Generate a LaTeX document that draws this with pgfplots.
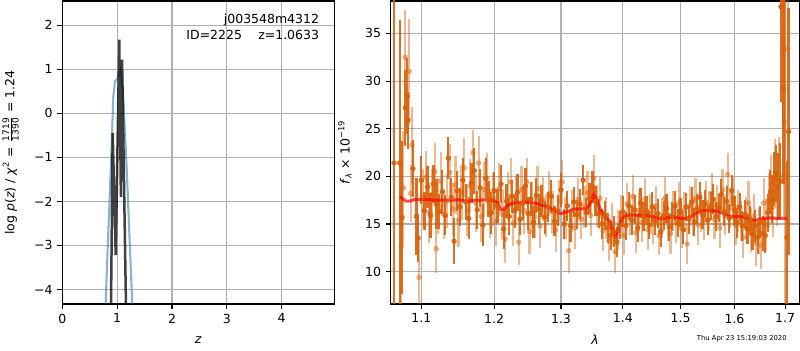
\documentclass[border=0pt]{standalone}
\usepackage{fontspec}
\setmainfont{DejaVu Sans}
\usepackage{pgfplots}
\usepackage{pgfplotstable}
\pgfplotsset{compat=1.18}
\definecolor{gridgray}{RGB}{176,176,176}
\definecolor{mplblue}{RGB}{31,119,180}
\definecolor{specor}{RGB}{217,97,8}

\pgfplotstableread{
x y e
1.0646 21.4 25
1.0719 21.4 15
1.0749 15.7 8
1.0791 27.2 4
1.0816 28.4 4
1.0826 25.9 3
1.0890 20.8 3
1.0935 15.8 4
1.0957 13.5 2.5
1.100 19.6 2.5
1.104 16.4 2.0
1.108 18.9 2.2
1.112 15.9 2.4
1.116 19.2 2.0
1.120 17.1 2.6
1.124 16.3 1.8
1.128 18.4 2.3
1.132 15.9 2.1
1.136 21.9 2.2
1.140 17.8 2.0
1.144 13.2 2.4
1.148 18.5 2.1
1.152 16.8 2.0
1.156 19.6 2.3
1.160 17.3 1.9
1.164 15.6 2.2
1.168 19.3 2.1
1.172 20.6 2.4
1.176 16.5 2.0
1.180 18.8 2.0
1.184 14.9 2.2
1.188 19.8 2.1
1.192 17.6 1.9
1.196 16.2 2.2
1.200 18.5 2.0
1.205 16.9 1.8
1.210 19.2 2.0
1.214 14.5 2.1
1.218 17.4 1.8
1.222 15.8 1.9
1.226 17.9 1.7
1.230 16.4 1.8
1.234 18.3 1.9
1.238 15.5 1.7
1.242 17.2 1.8
1.246 19.0 1.9
1.250 16.1 1.7
1.254 17.6 1.8
1.258 15.2 1.7
1.262 18.0 1.8
1.266 16.6 1.6
1.270 17.4 1.7
1.275 15.7 1.7
1.280 16.8 1.6
1.285 17.9 1.7
1.290 15.3 1.6
1.295 16.4 1.6
1.300 18.6 1.8
1.305 15.0 1.6
1.310 16.9 1.6
1.315 14.8 1.7
1.320 17.3 1.6
1.325 16.0 1.5
1.330 17.1 1.6
1.335 19.6 1.6
1.340 16.2 1.5
1.345 17.7 1.6
1.350 18.9 1.7
1.355 17.4 1.6
1.360 16.1 1.5
1.365 15.0 1.6
1.370 15.9 1.5
1.375 14.6 1.6
1.380 13.8 1.5
1.385 14.2 1.6
1.390 13.1 1.6
1.395 14.9 1.5
1.400 16.3 1.6
1.405 14.8 1.5
1.410 16.9 1.5
1.415 15.4 1.6
1.420 16.5 1.5
1.425 14.6 1.5
1.430 17.2 1.6
1.435 15.8 1.5
1.440 16.4 1.5
1.445 14.9 1.5
1.450 16.8 1.6
1.455 15.3 1.5
1.460 16.1 1.5
1.465 14.2 1.6
1.470 15.9 1.5
1.475 16.6 1.5
1.480 14.7 1.5
1.485 15.8 1.5
1.490 16.9 1.6
1.495 15.1 1.5
1.500 16.2 1.5
1.505 14.4 1.5
1.510 16.8 1.5
1.515 15.5 1.5
1.520 17.3 1.6
1.525 15.2 1.5
1.530 16.6 1.5
1.535 17.8 1.6
1.540 16.0 1.5
1.545 17.1 1.5
1.550 15.4 1.5
1.555 16.9 1.5
1.560 17.6 1.6
1.565 15.8 1.5
1.570 16.7 1.5
1.575 18.1 1.6
1.580 16.3 1.5
1.585 17.4 1.6
1.590 15.6 1.5
1.595 18.5 1.6
1.600 16.4 1.5
1.605 15.1 1.6
1.610 16.8 1.5
1.615 14.8 1.6
1.620 16.0 1.5
1.625 14.5 1.6
1.630 15.4 1.5
1.635 13.9 1.6
1.640 14.8 1.7
1.645 13.6 1.7
1.650 15.2 1.7
1.655 14.0 1.8
1.660 13.8 1.8
1.665 16.2 2.0
1.670 18.4 2.3
1.674 17.6 2.5
1.678 19.8 2.8
1.682 20.3 3.0
1.686 18.9 3.5
1.690 19.5 4
1.6913 37.8 10
1.6966 29.2 10
1.7035 13.6 8
1.707 24.7 13
}\darkdata

\pgfplotstableread{
x y e
1.0737 12.6 9
1.0765 18.8 6
1.0790 32.5 5
1.0842 31.0 5.5
1.0860 18.2 3
1.0878 23.3 4
1.0970 9.4 4
1.1198 12.4 2.5
1.102 17.8 3.0
1.106 19.9 2.8
1.110 16.2 3.2
1.114 18.1 2.7
1.118 20.5 3.0
1.122 16.9 2.9
1.126 19.5 3.1
1.130 16.0 2.6
1.134 17.4 2.8
1.138 20.4 3.0
1.142 16.6 2.7
1.146 19.1 3.0
1.150 15.4 2.8
1.154 18.3 2.9
1.158 20.9 3.1
1.162 16.4 2.7
1.166 19.0 2.8
1.170 22.5 2.4
1.174 17.2 3.0
1.178 21.4 2.8
1.182 15.8 2.7
1.186 18.6 2.9
1.190 19.8 2.7
1.194 16.1 2.6
1.198 17.6 2.8
1.203 15.3 2.6
1.207 18.7 2.7
1.212 16.0 2.6
1.216 13.4 2.5
1.220 17.9 2.6
1.224 19.4 2.5
1.228 15.1 2.4
1.232 17.5 2.5
1.236 13.1 2.4
1.240 18.6 2.5
1.244 16.4 2.4
1.248 19.4 2.5
1.252 14.2 2.3
1.256 17.0 2.4
1.260 15.8 2.3
1.264 18.7 2.4
1.268 14.8 2.3
1.272 17.6 2.3
1.277 15.9 2.3
1.282 18.2 2.4
1.287 16.3 2.2
1.292 14.4 2.3
1.297 17.4 2.2
1.302 19.4 2.3
1.307 15.6 2.2
1.312 12.2 2.3
1.317 16.4 2.2
1.322 14.6 2.2
1.327 17.6 2.2
1.332 15.5 2.1
1.337 16.8 2.2
1.342 18.3 2.3
1.347 15.9 2.2
1.352 19.8 2.4
1.357 16.9 2.2
1.362 17.7 2.2
1.367 14.3 2.1
1.372 15.6 2.2
1.377 13.2 2.1
1.382 15.0 2.2
1.387 12.1 2.2
1.392 14.4 2.1
1.397 15.8 2.2
1.402 13.8 2.1
1.407 17.1 2.2
1.412 15.9 2.1
1.417 17.9 2.2
1.422 14.1 2.1
1.427 16.4 2.1
1.432 15.2 2.1
1.437 17.6 2.2
1.442 14.4 2.1
1.447 16.1 2.1
1.452 15.0 2.1
1.457 16.9 2.1
1.462 13.8 2.1
1.467 15.6 2.1
1.472 17.7 2.2
1.477 15.3 2.1
1.482 14.0 2.1
1.487 16.4 2.1
1.492 15.1 2.1
1.497 17.2 2.2
1.502 14.6 2.1
1.507 16.3 2.1
1.512 12.9 2.1
1.517 16.9 2.1
1.522 15.8 2.1
1.527 17.6 2.2
1.532 14.9 2.1
1.537 16.3 2.1
1.542 15.4 2.1
1.547 17.3 2.2
1.552 16.4 2.1
1.557 18.2 2.2
1.562 15.5 2.1
1.567 17.0 2.1
1.572 14.6 2.1
1.577 18.6 2.2
1.582 15.9 2.1
1.587 20.2 2.3
1.592 16.7 2.1
1.597 17.7 2.2
1.602 14.9 2.1
1.607 16.4 2.2
1.612 15.3 2.1
1.617 13.6 2.2
1.622 15.6 2.2
1.627 17.2 2.3
1.632 14.4 2.3
1.637 15.8 2.3
1.642 13.0 2.4
1.647 14.3 2.4
1.652 12.8 2.5
1.657 17.2 2.6
1.662 14.9 2.7
1.667 17.5 2.9
1.672 19.2 3.0
1.676 16.8 3.2
1.680 20.4 3.5
1.684 18.6 3.8
1.688 20.1 4
1.6966 33.2 8
1.6980 25.7 10
1.7000 20.0 20
1.705 33.4 6
}\lightdata

\pgfplotsset{
  mplaxis/.style={
    scale only axis,
    anchor=south west,
    height=218.16pt,
    axis line style={line width=0.8pt},
    grid=major,
    major grid style={gridgray, line width=0.8pt},
    tick align=outside,
    major tick length=3.5pt,
    every tick/.style={black, line width=0.8pt},
    xtick pos=bottom, ytick pos=left,
    tick label style={font=\fontsize{9}{11}\selectfont},
    label style={font=\fontsize{9}{11}\selectfont},
    /pgf/number format/assume math mode=true,
    clip=true,
  }
}

\begin{document}
\begin{tikzpicture}
\useasboundingbox (0,0) rectangle (576pt,252pt);

\begin{axis}[mplaxis,
  at={(44.86pt,33.12pt)},
  width=195.84pt,
  xmin=0, xmax=4.96, ymin=-4.33, ymax=2.55,
  xtick={0,1,2,3,4}, xticklabels={0,1,2,3,4},
  ytick={-4,-3,-2,-1,0,1,2},
  yticklabels={−4,−3,−2,−1,0,1,2},
  xlabel={\textit{z}},
  xlabel style={at={(axis description cs:0.5,-0.119)}, anchor=center},
  ylabel={log \textit{p}(\textit{z}) / \textit{χ}\textsuperscript{2} = $\frac{\mbox{\fontsize{6.5}{7}\selectfont 1719}}{\mbox{\fontsize{6.5}{7}\selectfont 1390}}$ = 1.24},
  ylabel style={at={(axis description cs:-0.19,0.5)}, anchor=center},
]
\addplot[mplblue, opacity=0.55, line width=1.5pt] coordinates {
(0.77,-5.0) (0.79,-4.33) (0.84,-2.65) (0.888,-1.14) (0.93,0.38) (0.96,0.72)
(1.00,0.78) (1.04,0.88) (1.064,0.98) (1.09,0.75) (1.11,0.38) (1.17,-1.14)
(1.22,-2.65) (1.276,-4.33) (1.30,-5.0)
};
\addplot[black, opacity=0.75, line width=1.8pt] coordinates {
(0.883,-5.0) (0.919,-0.45) (0.974,-3.22) (1.039,1.67) (1.068,-1.9)
(1.090,1.22) (1.169,-5.0)
};
\node[anchor=east, inner sep=0pt, font=\fontsize{9}{11}\selectfont] at (axis description cs:0.945,0.936) {j003548m4312};
\node[anchor=east, inner sep=0pt, font=\fontsize{9}{11}\selectfont] at (axis description cs:0.945,0.889) {ID=2225\hspace{1.3em}z=1.0633};
\end{axis}

\begin{axis}[mplaxis,
  at={(281.3pt,33.12pt)},
  width=294.2pt,
  xmode=log,
  xmin=1.0604, xmax=1.729, ymin=6.61, ymax=38.4,
  xtick={1.1,1.2,1.3,1.4,1.5,1.6,1.7},
  xticklabels={1.1,1.2,1.3,1.4,1.5,1.6,1.7},
  minor xtick={},
  ytick={10,15,20,25,30,35},
  yticklabels={10,15,20,25,30,35},
  xlabel={\textit{λ}},
  xlabel style={at={(axis description cs:0.5,-0.119)}, anchor=center},
  ylabel={\textit{f}\textsubscript{\textit{λ}} × 10\textsuperscript{−19}},
  ylabel style={at={(axis description cs:-0.112,0.5)}, anchor=center},
]
\addplot[specor, opacity=0.45, only marks, mark=*, mark size=1.7pt,
  mark options={draw=none, fill=specor},
  error bars/.cd, y dir=both, y explicit, error mark=none,
  error bar style={line width=1.6pt, specor, opacity=0.45}]
  table[x=x, y=y, y error=e] {\lightdata};
\addplot[specor, opacity=0.9, only marks, mark=*, mark size=1.7pt,
  mark options={draw=none, fill=specor},
  error bars/.cd, y dir=both, y explicit, error mark=none,
  error bar style={line width=1.6pt, specor, opacity=0.9}]
  table[x=x, y=y, y error=e] {\darkdata};
\addplot[red, opacity=0.7, line width=2.2pt] coordinates {
(1.072,17.9) (1.075,17.7) (1.080,17.4) (1.085,17.4) (1.09,17.55) (1.10,17.6)
(1.11,17.55) (1.12,17.5) (1.14,17.5) (1.15,17.55) (1.16,17.4) (1.17,17.45)
(1.18,17.5) (1.19,17.55) (1.20,17.45) (1.205,17.2) (1.21,16.5) (1.215,16.6)
(1.22,17.0) (1.23,17.25) (1.25,17.3) (1.26,17.2) (1.27,17.0) (1.28,16.8)
(1.29,16.4) (1.30,16.1) (1.31,16.3) (1.32,16.55) (1.33,16.6) (1.34,16.6)
(1.345,17.0) (1.352,18.1) (1.357,17.5) (1.362,16.6) (1.37,15.8) (1.378,15.3)
(1.384,14.2) (1.388,13.7) (1.393,14.6) (1.398,15.6) (1.405,15.9) (1.42,15.95)
(1.44,15.9) (1.45,15.8) (1.46,15.6) (1.47,15.6) (1.48,15.7) (1.49,15.7)
(1.50,15.6) (1.51,15.6) (1.52,15.8) (1.53,16.2) (1.54,16.4) (1.555,16.45)
(1.57,16.3) (1.58,16.1) (1.59,15.8) (1.60,15.8) (1.61,15.8) (1.62,15.7)
(1.63,15.5) (1.64,15.4) (1.65,15.5) (1.66,15.6) (1.67,15.65) (1.68,15.6)
(1.69,15.6) (1.7035,15.6)
};
\end{axis}

\node[anchor=east, inner sep=0pt, font=\fontsize{4.9}{5.5}\selectfont] at (566.6pt,7.9pt) {Thu Apr 23 15:19:03 2020};
\end{tikzpicture}
\end{document}
